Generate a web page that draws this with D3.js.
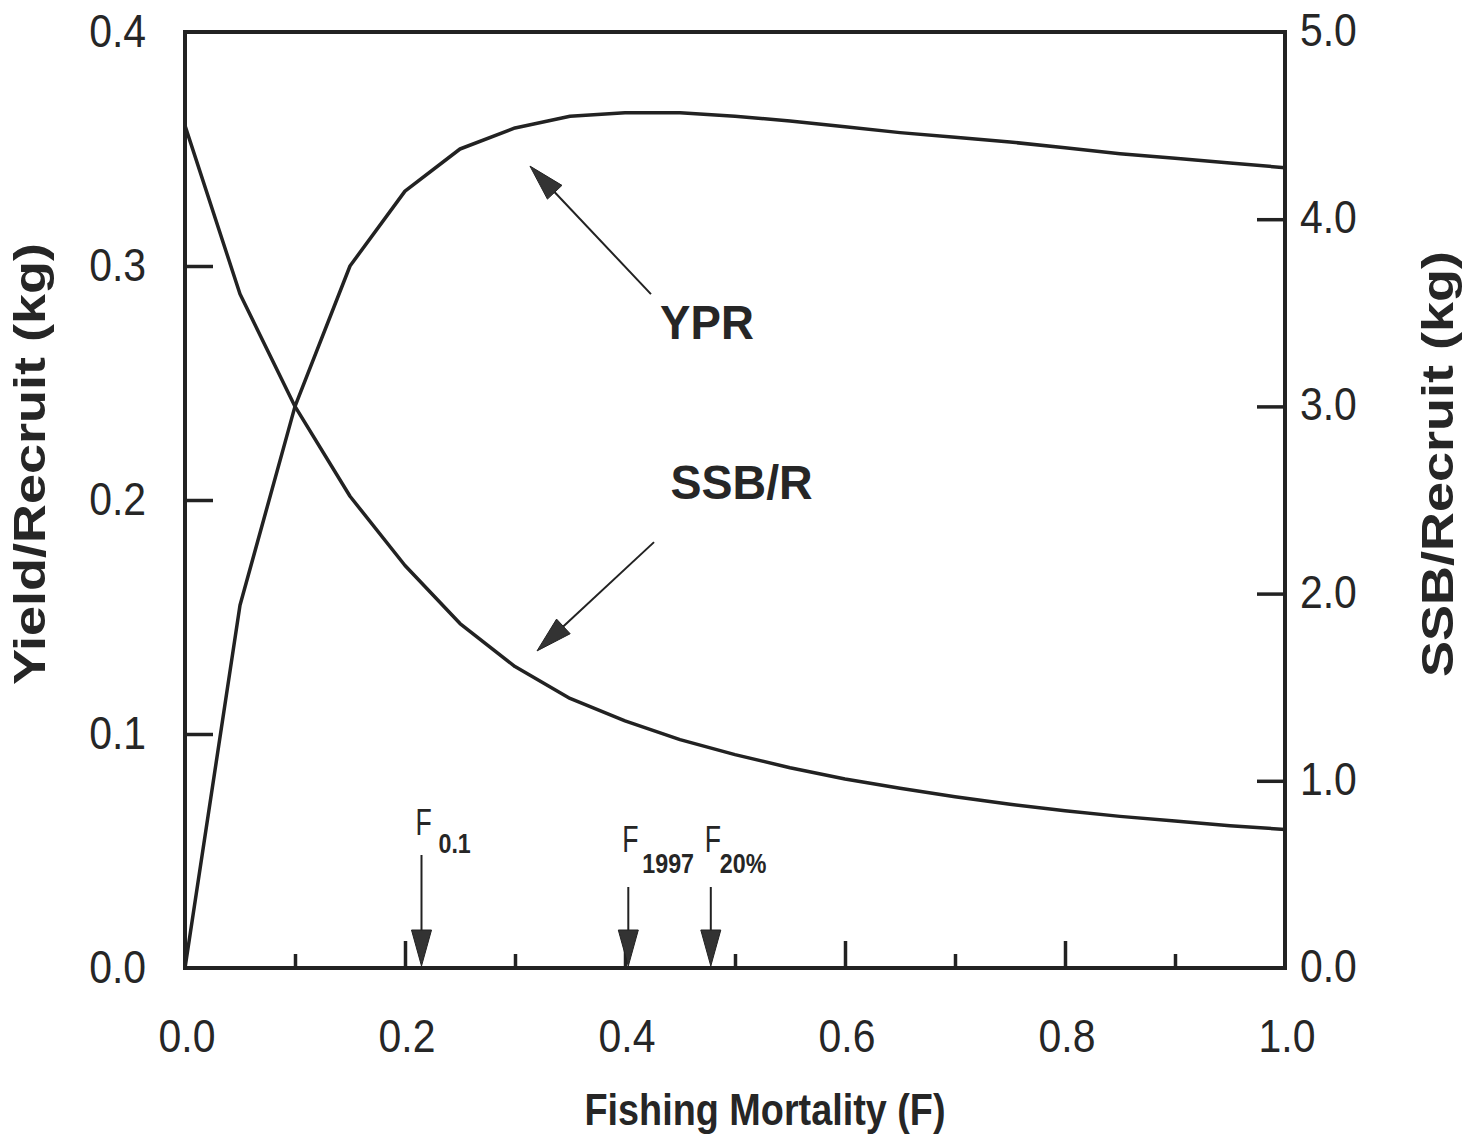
<!DOCTYPE html>
<html>
<head>
<meta charset="utf-8">
<script src="https://cdn.jsdelivr.net/npm/d3@7"></script>
<style>
  html, body { margin: 0; padding: 0; background: #fff; }
  svg { display: block; }
  text { font-family: "Liberation Sans", Arial, sans-serif; fill: #262626; }
</style>
</head>
<body>
<svg id="chart" width="1473" height="1141"></svg>
<script>
// ---- Data ----
const fValues   = [0, 0.05, 0.1, 0.15, 0.2, 0.25, 0.3, 0.35, 0.4, 0.45, 0.5, 0.55, 0.6, 0.65, 0.7, 0.75, 0.8, 0.85, 0.9, 0.95, 1.0];
const yprValues = [0, 0.155, 0.24, 0.30, 0.332, 0.350, 0.359, 0.364, 0.3655, 0.3655, 0.364, 0.362, 0.3595, 0.357, 0.355, 0.353, 0.3505, 0.348, 0.346, 0.344, 0.342];
const ssbValues = [4.5, 3.6, 3.0, 2.52, 2.15, 1.84, 1.61, 1.44, 1.32, 1.22, 1.14, 1.07, 1.01, 0.96, 0.915, 0.875, 0.84, 0.81, 0.785, 0.76, 0.74];

const xTickLabels   = ["0.0", "0.2", "0.4", "0.6", "0.8", "1.0"];
const leftTickLabels  = ["0.0", "0.1", "0.2", "0.3", "0.4"];
const rightTickLabels = ["0.0", "1.0", "2.0", "3.0", "4.0", "5.0"];

const refPointNames = ["F", "F", "F"];
const refPointSubs  = ["0.1", "1997", "20%"];
const refPointF     = [0.215, 0.403, 0.478];

// ---- Layout ----
const L = 185, R = 1285, T = 32, B = 968;
const svg = d3.select("#chart");
const ink = "#222";

const x  = d3.scaleLinear().domain([0, 1]).range([L, R]);
const yL = d3.scaleLinear().domain([0, 0.4]).range([B, T]);
const yR = d3.scaleLinear().domain([0, 5]).range([B, T]);

// Frame
svg.append("rect").attr("x", L).attr("y", T).attr("width", R - L).attr("height", B - T)
  .attr("fill", "none").attr("stroke", ink).attr("stroke-width", 4);

// Left axis ticks (inward)
const leftAxis = d3.axisRight(yL).tickValues([0.1, 0.2, 0.3]).tickSize(28).tickFormat("");
svg.append("g").attr("transform", `translate(${L},0)`).call(leftAxis)
  .call(g => g.select(".domain").remove())
  .selectAll("line").attr("stroke", ink).attr("stroke-width", 3.5);

// Right axis ticks (inward)
const rightAxis = d3.axisLeft(yR).tickValues([1, 2, 3, 4]).tickSize(28).tickFormat("");
svg.append("g").attr("transform", `translate(${R},0)`).call(rightAxis)
  .call(g => g.select(".domain").remove())
  .selectAll("line").attr("stroke", ink).attr("stroke-width", 3.5);

// Bottom axis ticks (major/minor inward)
const majorX = d3.axisTop(x).tickValues([0.2, 0.4, 0.6, 0.8]).tickSize(27).tickFormat("");
svg.append("g").attr("transform", `translate(0,${B})`).call(majorX)
  .call(g => g.select(".domain").remove())
  .selectAll("line").attr("stroke", ink).attr("stroke-width", 3.5);
const minorX = d3.axisTop(x).tickValues([0.1, 0.3, 0.5, 0.7, 0.9]).tickSize(14).tickFormat("");
svg.append("g").attr("transform", `translate(0,${B})`).call(minorX)
  .call(g => g.select(".domain").remove())
  .selectAll("line").attr("stroke", ink).attr("stroke-width", 3.5);

// Tick labels
const tickFont = 47, sx = 0.87;
leftTickLabels.forEach(t => {
  svg.append("text").attr("transform", `translate(146,${yL(+t) + 15}) scale(${sx},1)`)
    .attr("text-anchor", "end").attr("font-size", tickFont).text(t);
});
rightTickLabels.forEach(t => {
  svg.append("text").attr("transform", `translate(1300,${yR(+t) + 14}) scale(${sx},1)`)
    .attr("text-anchor", "start").attr("font-size", tickFont).text(t);
});
xTickLabels.forEach(t => {
  svg.append("text").attr("transform", `translate(${x(+t) + 2},1052) scale(${sx},1)`)
    .attr("text-anchor", "middle").attr("font-size", tickFont).text(t);
});

// Axis titles
svg.append("text").attr("transform", `translate(765,1125) scale(0.84,1)`)
  .attr("text-anchor", "middle").attr("font-size", 45).attr("font-weight", "bold")
  .text("Fishing Mortality (F)");
svg.append("text").attr("transform", `translate(45,464) rotate(-90) scale(1,0.83)`)
  .attr("text-anchor", "middle").attr("font-size", 54).attr("font-weight", "bold")
  .text("Yield/Recruit (kg)");
svg.append("text").attr("transform", `translate(1453,464) rotate(-90) scale(1,0.83)`)
  .attr("text-anchor", "middle").attr("font-size", 54).attr("font-weight", "bold")
  .text("SSB/Recruit (kg)");

// Curves
const yprLine = d3.line().x((d, i) => x(fValues[i])).y(d => yL(d));
const ssbLine = d3.line().x((d, i) => x(fValues[i])).y(d => yR(d));
svg.append("path").attr("d", yprLine(yprValues)).attr("fill", "none")
  .attr("stroke", ink).attr("stroke-width", 3.5).attr("stroke-linejoin", "round");
svg.append("path").attr("d", ssbLine(ssbValues)).attr("fill", "none")
  .attr("stroke", ink).attr("stroke-width", 3.5).attr("stroke-linejoin", "round");

// Arrow helper
function arrow(x1, y1, x2, y2, headLen, headHalf) {
  const dx = x2 - x1, dy = y2 - y1, len = Math.hypot(dx, dy);
  const ux = dx / len, uy = dy / len;
  const bx = x2 - ux * headLen, by = y2 - uy * headLen;
  svg.append("line").attr("x1", x1).attr("y1", y1).attr("x2", bx + ux * 2).attr("y2", by + uy * 2)
    .attr("stroke", ink).attr("stroke-width", 2);
  const px = -uy, py = ux;
  svg.append("path")
    .attr("d", `M${x2},${y2} L${bx + px * headHalf},${by + py * headHalf} L${bx - px * headHalf},${by - py * headHalf} Z`)
    .attr("fill", "#333").attr("stroke", ink).attr("stroke-width", 1);
}

// YPR / SSB annotations (in data units)
arrow(x(0.4236), yL(0.288), x(0.3136), yL(0.3427), 36, 10);
arrow(x(0.4264), yL(0.182), x(0.320), yL(0.1355), 36, 10);
svg.append("text").attr("transform", `translate(${x(0.4745)},${yL(0.2688)}) scale(0.95,1)`)
  .attr("text-anchor", "middle").attr("font-size", 48).attr("font-weight", "bold").text("YPR");
svg.append("text").attr("transform", `translate(${x(0.506)},${yL(0.2004)}) scale(0.97,1)`)
  .attr("text-anchor", "middle").attr("font-size", 48).attr("font-weight", "bold").text("SSB/R");

// Reference point arrows and labels
const lineTops = [855, 887, 887];
const subOffsets = [23, 20, 15];
refPointF.forEach((f, i) => {
  const px = x(f);
  arrow(px, lineTops[i], px, 966, 36, 10);
  const fBase = i === 0 ? 835 : 852;
  const sBase = i === 0 ? 853 : 873;
  svg.append("text").attr("transform", `translate(${px - 6},${fBase}) scale(0.72,1)`)
    .attr("font-size", 37).text(refPointNames[i]);
  svg.append("text").attr("transform", `translate(${px - 6 + subOffsets[i]},${sBase}) scale(0.83,1)`)
    .attr("font-size", 28).attr("font-weight", "bold").text(refPointSubs[i]);
});
</script>
</body>
</html>
